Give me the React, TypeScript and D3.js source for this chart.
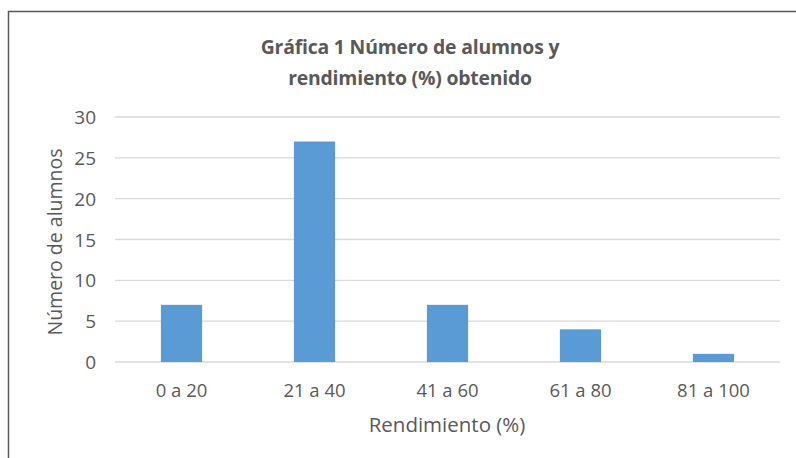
import React from 'react';
import * as d3 from 'd3';

const categories = ['0 a 20', '21 a 40', '41 a 60', '61 a 80', '81 a 100'];
const alumnos = [7, 27, 7, 4, 1];
const yTicks = [0, 5, 10, 15, 20, 25, 30];
const titleLines = ['Gráfica 1 Número de alumnos y', 'rendimiento (%) obtenido'];
const xTitle = 'Rendimiento (%)';
const yTitle = 'Número de alumnos';

const W = 796;
const H = 458;
const margins = { top: 117, bottom: 96, left: 115, right: 16 };
const font = '"Open Sans", "DejaVu Sans", sans-serif';
const textColor = '#595959';

export default function App() {
  const xScale = d3.scaleBand<string>()
    .domain(categories)
    .range([margins.left, W - margins.right])
    .paddingInner(0.69)
    .paddingOuter(0.345);
  const yScale = d3.scaleLinear()
    .domain([0, 30])
    .range([H - margins.bottom, margins.top]);

  return (
    <svg width={W} height={H} style={{ position: 'absolute', left: 0, top: 0, background: '#fff' }}>
      {/* frame */}
      <rect x={8.5} y={11.5} width={820} height={470} fill="none" stroke="#595959" strokeWidth={1.5} />

      {titleLines.map((t, i) => (
        <text key={t} x={410} y={54 + i * 31} textAnchor="middle" fill={textColor}
          fontFamily={font} fontWeight="bold" fontSize={19.4} letterSpacing={-0.2}>{t}</text>
      ))}

      {/* gridlines */}
      {yTicks.map(v => (
        <g key={v}>
          <line x1={margins.left} x2={W - margins.right} y1={yScale(v)} y2={yScale(v)}
            stroke="#d9d9d9" strokeWidth={1.3} />
          <text x={96} y={yScale(v) + 7} textAnchor="end" fill={textColor}
            fontFamily={font} fontSize={19}>{v}</text>
        </g>
      ))}

      {/* bars */}
      {categories.map((c, i) => (
        <rect key={c} x={xScale(c)} y={yScale(alumnos[i])} width={xScale.bandwidth()}
          height={yScale(0) - yScale(alumnos[i])} fill="#5b9bd5" />
      ))}

      {categories.map(c => (
        <text key={c} x={(xScale(c) ?? 0) + xScale.bandwidth() / 2} y={397} textAnchor="middle"
          fill={textColor} fontFamily={font} fontSize={18.5}>{c}</text>
      ))}

      <text x={447} y={432} textAnchor="middle" fill={textColor} fontFamily={font} fontSize={20.5}>{xTitle}</text>
      <text transform={`translate(62, 242) rotate(-90)`} textAnchor="middle" fill={textColor}
        fontFamily={font} fontSize={19.5}>{yTitle}</text>
    </svg>
  );
}
